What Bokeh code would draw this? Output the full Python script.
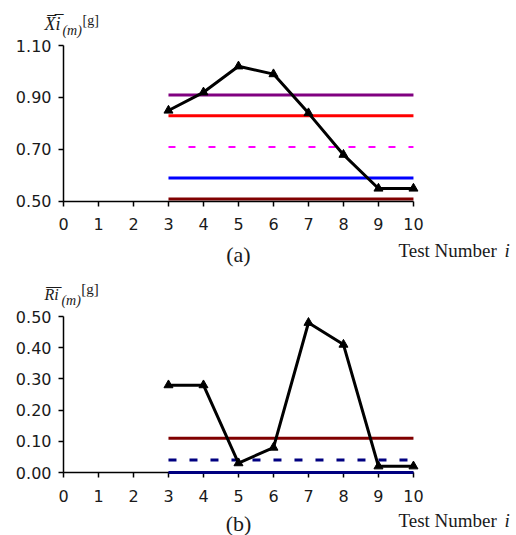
from bokeh.plotting import figure
from bokeh.layouts import column
from bokeh.models import Range1d, Label, FixedTicker, NumeralTickFormatter
from bokeh.embed import file_html
from bokeh.resources import INLINE

# ---------------- data ----------------
tests = [3, 4, 5, 6, 7, 8, 9, 10]
xbar = [0.85, 0.92, 1.02, 0.99, 0.84, 0.68, 0.55, 0.55]
rbar = [0.28, 0.28, 0.03, 0.08, 0.48, 0.41, 0.02, 0.02]

limit_span = [3, 10]
xbar_limits = [0.91, 0.83, 0.71, 0.59, 0.51]
rbar_limits = [0.11, 0.04, 0.00]

x_ticks = [0, 1, 2, 3, 4, 5, 6, 7, 8, 9, 10]
xbar_ticks = [0.50, 0.70, 0.90, 1.10]
rbar_ticks = [0.00, 0.10, 0.20, 0.30, 0.40, 0.50]

# ---------------- styles ----------------
xbar_styles = [("#800080", "solid", 3), ("#ff0000", "solid", 3),
               ("#ff00ff", "7 13", 2), ("#0000ff", "solid", 3),
               ("#800000", "solid", 3)]
rbar_styles = [("#800000", "solid", 3), ("#000080", "8 13", 3),
               ("#000080", "solid", 3)]

TICK_FONT = "DejaVu Sans"
SERIF = "Liberation Serif"
W = 512


def make_fig(height, y_lo, y_hi, y_axis_pos, y_bounds, ticks):
    p = figure(width=W, height=height, x_range=Range1d(-1.8, 12.83),
               y_range=Range1d(y_lo, y_hi), output_backend="svg",
               toolbar_location=None, min_border=0)
    p.xgrid.visible = False
    p.ygrid.visible = False
    p.outline_line_color = None
    for ax in (p.xaxis[0], p.yaxis[0]):
        ax.axis_line_width = 1.5
        ax.axis_line_color = "black"
        ax.major_tick_line_width = 1.5
        ax.major_tick_line_color = "black"
        ax.major_tick_out = 5
        ax.major_tick_in = 0
        ax.minor_tick_line_color = None
        ax.major_label_text_font = TICK_FONT
        ax.major_label_text_font_size = "16px"
        ax.major_label_text_color = "#1a1a1a"
    p.xaxis[0].ticker = FixedTicker(ticks=x_ticks)
    p.xaxis[0].bounds = (0, 10)
    p.xaxis[0].fixed_location = y_axis_pos
    p.xaxis[0].major_label_standoff = 12
    p.yaxis[0].ticker = FixedTicker(ticks=ticks)
    p.yaxis[0].formatter = NumeralTickFormatter(format="0.00")
    p.yaxis[0].bounds = y_bounds
    p.yaxis[0].fixed_location = 0
    p.yaxis[0].major_label_standoff = 7
    return p


def lab(p, x, y, text, size, italic=False, align="left"):
    p.add_layout(Label(x=x, y=y, text=text, text_font=SERIF,
                       text_font_style="italic" if italic else "normal",
                       text_font_size=size, text_align=align,
                       text_baseline="alphabetic", text_color="#1a1a1a"))


# ---------------- panel (a) ----------------
# page rows 0..278: value 0.5 at row 201, 260 px per unit
p1 = make_fig(278, 0.2038, 1.2731, 0.5, (0.5, 1.1), xbar_ticks)
for v, (c, d, w) in zip(xbar_limits, xbar_styles):
    p1.line(limit_span, [v, v], line_color=c, line_dash=d, line_width=w)
p1.line(tests, xbar, line_color="black", line_width=3)
p1.scatter(tests, xbar, marker="triangle", size=9, color="black")

lab(p1, -0.543, 1.184, "X\u0305i\u0305", "18px", italic=True)
lab(p1, -0.03, 1.157, "(m)", "14px", italic=True)
lab(p1, 0.543, 1.197, "[g]", "14px")
lab(p1, 5.0, 0.298, "(a)", "22px", align="center")
lab(p1, 9.571, 0.311, "Test Number", "19px")
lab(p1, 12.6, 0.311, "i", "19px", italic=True)

# ---------------- panel (b) ----------------
# page rows 278..535: value 0 at row 472, 312 px per unit
p2 = make_fig(257, -0.2019, 0.6218, 0.0, (0.0, 0.5), rbar_ticks)
for v, (c, d, w) in zip(rbar_limits, rbar_styles):
    p2.line(limit_span, [v, v], line_color=c, line_dash=d, line_width=w,
            level="overlay")
p2.line(tests, rbar, line_color="black", line_width=3, level="overlay")
p2.scatter(tests, rbar, marker="triangle", size=9, color="black", level="overlay")

lab(p2, -0.543, 0.570, "R\u0305i\u0305", "16px", italic=True)
lab(p2, -0.06, 0.551, "(m)", "14px", italic=True)
lab(p2, 0.51, 0.587, "[g]", "15px")
lab(p2, 5.0, -0.1635, "(b)", "22px", align="center")
lab(p2, 9.571, -0.154, "Test Number", "19px")
lab(p2, 12.6, -0.154, "i", "19px", italic=True)

layout = column(p1, p2, spacing=0)
open("out.html", "w").write(file_html(layout, INLINE))
